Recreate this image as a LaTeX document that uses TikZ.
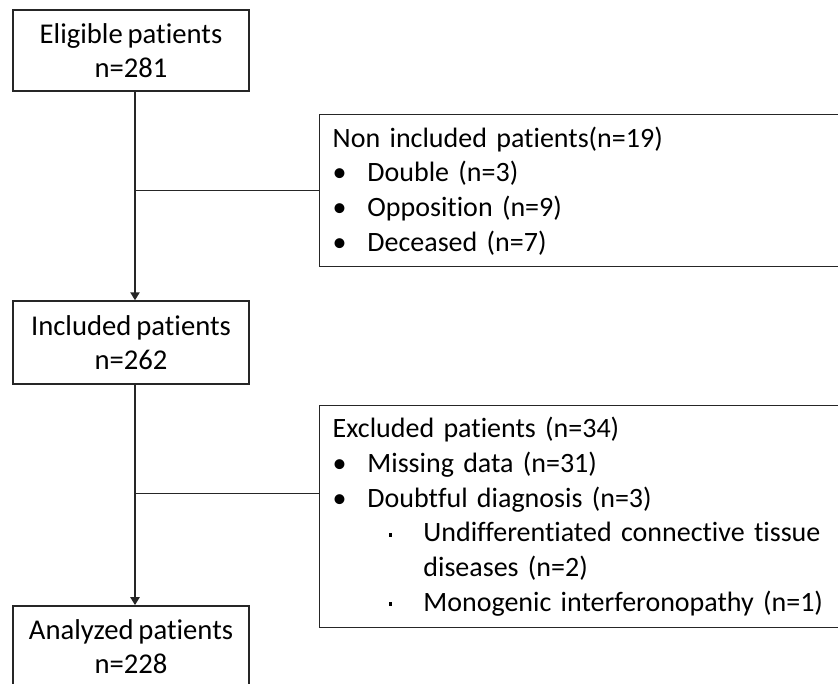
\documentclass[tikz,border=0pt]{standalone}
\usepackage{fontspec}
\setmainfont{Carlito}[Ligatures=NoCommon,WordSpace=0.75]
\usetikzlibrary{arrows.meta,calc}
\definecolor{line1}{rgb}{0.15,0.15,0.15}
\newcommand{\bul}{\makebox[26pt][l]{\textbullet}}
\newcommand{\subbul}{\hspace*{42pt}\makebox[26pt][l]{\raisebox{0.4ex}{\rule{2.8pt}{2.8pt}}}}

\begin{document}
\begin{tikzpicture}[x=0.75pt,y=-0.75pt,>={Triangle[length=6pt,width=7pt]},
    mainbox/.style={draw=line1,line width=1.1pt,minimum width=177pt,minimum height=61pt,inner sep=0pt,align=center,font=\fontsize{21.5}{26}\selectfont},
    sidebox/.style={draw=line1,line width=1.1pt,anchor=north west,text width=400pt,inner xsep=9.75pt,align=left,font=\fontsize{21}{26}\selectfont}]
    \useasboundingbox (0,0) rectangle (838,684);
    \clip (0,0) rectangle (838,684);
    \node[mainbox] (elig) at (131,50.5) {Eligible patients\\n=281};
    \node[mainbox,minimum height=62.25pt] (incl) at (131,342.5) {Included patients\\n=262};
    \node[mainbox] (anal) at (131,646.5) {Analyzed patients\\n=228};
    \node[sidebox,minimum height=114pt] (nonincl) at (319,114) {Non included patients(n=19)\\
      \bul Double (n=3)\\
      \bul Opposition (n=9)\\
      \bul Deceased (n=7)};
    \node[sidebox,minimum height=166.5pt] (excl) at (319,405) {Excluded patients (n=34)\\
      \bul Missing data (n=31)\\
      \bul Doubtful diagnosis (n=3)\\
      \subbul Undifferentiated connective tissue\\
      \hspace*{68pt}diseases (n=2)\\
      \subbul Monogenic interferonopathy (n=1)};
    \coordinate (spine) at ([xshift=3pt]elig.south);
    \draw[line1,line width=1.1pt,->] (spine) -- ([xshift=3pt]incl.north);
    \draw[line1,line width=1.1pt,->] ([xshift=3pt]incl.south) -- ([xshift=3pt]anal.north);
    \draw[line1,line width=1.1pt] (nonincl.west) -- (nonincl.west -| spine);
    \draw[line1,line width=1.1pt] ([yshift=17.25pt]excl.west) -- ([yshift=17.25pt]excl.west -| spine);
\end{tikzpicture}
\end{document}
